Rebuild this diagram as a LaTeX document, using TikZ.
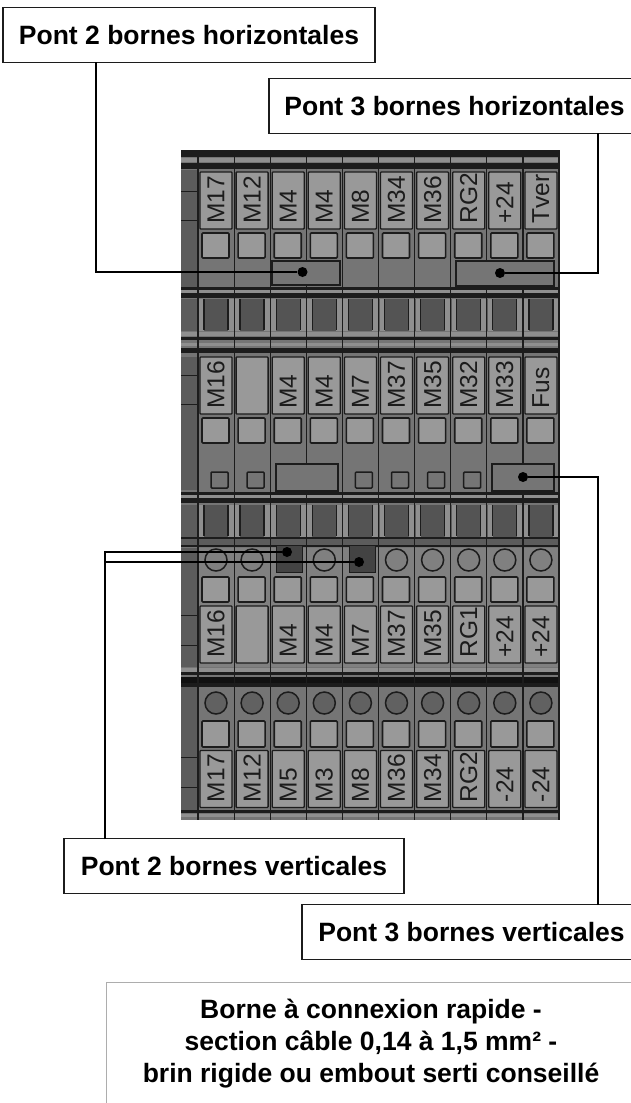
\documentclass[tikz,border=0pt]{standalone}
\usepackage{fontspec}
\setmainfont{Liberation Sans}
\usepackage{tikz}

\definecolor{inkgrey}{gray}{0.11}
\definecolor{casegrey}{gray}{0.46}
\definecolor{upgrey}{gray}{0.50}
\definecolor{taggrey}{gray}{0.60}
\definecolor{cellgrey}{gray}{0.33}
\definecolor{stripgrey}{gray}{0.36}
\definecolor{railgrey}{gray}{0.56}
\definecolor{holegrey}{gray}{0.38}
\definecolor{notegrey}{gray}{0.68}

\tikzset{
    callout/.style={draw=inkgrey, fill=white, line width=1.2pt, font=\bfseries\fontsize{26.5}{32}\selectfont, minimum height=55pt, inner sep=0pt},
    notebox/.style={draw=notegrey, fill=white, line width=1pt, font=\bfseries\fontsize{26.5}{32}\selectfont, align=center, minimum width=530pt, minimum height=126pt, inner sep=0pt},
    tag/.style={draw=inkgrey, fill=taggrey, line width=1.3pt, rounded corners=0.8pt, rotate=90, minimum width=57pt, minimum height=32pt, text width=46pt, inner xsep=5.5pt, inner ysep=0pt, align=flush left, text=inkgrey, font=\fontsize{24.5}{24.5}\selectfont},
    plug/.style={draw=inkgrey, fill=taggrey, line width=1.6pt, rounded corners=1pt},
    hole/.style={draw=inkgrey, line width=1.5pt},
    lid/.style={draw=inkgrey, fill=casegrey, line width=1.6pt},
    dark/.style={draw=inkgrey, fill=cellgrey!80!black, line width=1pt},
    dot/.style={circle, fill=black, minimum size=10pt, inner sep=0pt},
    wire/.style={black, line width=2pt}
}

\begin{document}
\begin{tikzpicture}[x=1pt, y=-1pt]
    \useasboundingbox (0, 0) rectangle (630, 1103);
    % case
    \fill[casegrey] (181, 150) rectangle (559, 820);
    \fill[upgrey] (198, 548) rectangle (559, 667);
    \fill[stripgrey] (181, 170) rectangle (198, 287);
    \fill[stripgrey] (181, 357) rectangle (198, 490);
    \fill[stripgrey] (181, 548) rectangle (198, 667);
    \fill[stripgrey] (181, 687) rectangle (198, 810);
    \foreach \y in {191, 220, 375, 404, 615, 645, 757, 787}
        \draw[inkgrey, line width=0.9pt] (181, \y) -- (198, \y);

    % bands across the case
    \fill[inkgrey] (181, 150) rectangle (559, 157);
    \fill[railgrey] (181, 158) rectangle (559, 162);
    \fill[inkgrey] (181, 163) rectangle (559, 169);
    \fill[inkgrey] (181, 287) rectangle (559, 290);
    \fill[railgrey] (181, 290) rectangle (559, 293);
    \fill[inkgrey] (181, 293) rectangle (559, 298);
    \fill[railgrey] (181, 332) rectangle (559, 336);
    \fill[inkgrey] (181, 337) rectangle (559, 340);
    \fill[railgrey] (181, 343) rectangle (559, 346);
    \fill[inkgrey] (181, 348) rectangle (559, 353);
    \fill[inkgrey] (181, 492) rectangle (559, 495);
    \fill[railgrey] (181, 495) rectangle (559, 498);
    \fill[inkgrey] (181, 498) rectangle (559, 503);
    \fill[stripgrey] (181, 537) rectangle (559, 547);
    \fill[inkgrey] (181, 537) rectangle (559, 539);
    \fill[inkgrey] (181, 545) rectangle (559, 547);
    \fill[railgrey] (181, 668) rectangle (559, 672);
    \fill[inkgrey] (181, 672) rectangle (559, 675);
    \fill[inkgrey!60!black] (181, 677) rectangle (559, 683);
    \fill[inkgrey] (181, 683) rectangle (559, 687);
    \fill[inkgrey] (181, 810) rectangle (559, 813);
    \fill[railgrey] (181, 814) rectangle (559, 817);
    \foreach \y in {299, 505} {
        \fill[stripgrey] (181, \y) rectangle (559, \y + 32);
        \foreach \i in {0, ..., 9} {
            \fill[railgrey] (199 + 36.1*\i, \y) rectangle (233.5 + 36.1*\i, \y + 32);
            \fill[cellgrey] (204 + 36.1*\i, \y) rectangle (228 + 36.1*\i, \y + 32);
            \draw[inkgrey, line width=1.3pt] (204 + 36.1*\i, \y) -- (204 + 36.1*\i, \y + 31);
            \draw[inkgrey, line width=1.3pt] (228 + 36.1*\i, \y) -- (228 + 36.1*\i, \y + 31);
        }
    }

    % walls between the terminals
    \foreach \i in {0, ..., 10}
        \draw[inkgrey, line width=1.2pt] (198 + 36.1*\i, 150) -- (198 + 36.1*\i, 820);

    % the four rows
    \foreach \t [count=\i from 0, evaluate=\i as \x using 216+36.1*\i] in {M17, M12, M4, M4, M8, M34, M36, RG2, +24, Tver} {
        \draw (\x, 200.5) node[tag](a\i){\t};
        \draw[plug] (\x - 14, 233) rectangle (\x + 13, 258);
    }
    \foreach \t [count=\i from 0, evaluate=\i as \x using 216+36.1*\i] in {M16, , M4, M4, M7, M37, M35, M32, M33, Fus} {
        \draw (\x, 385.5) node[tag](b\i){\t};
        \draw[plug] (\x - 14, 418) rectangle (\x + 13, 443);
    }
    \foreach \t [count=\i from 0, evaluate=\i as \x using 216+36.1*\i] in {M16, , M4, M4, M7, M37, M35, RG1, +24, +24} {
        \draw (\x, 634.5) node[tag](c\i){\t};
        \draw[plug] (\x - 14, 577) rectangle (\x + 13, 602);
    }
    \foreach \t [count=\i from 0, evaluate=\i as \x using 216+36.1*\i] in {M17, M12, M5, M3, M8, M36, M34, RG2, -24, -24} {
        \draw (\x, 779) node[tag](e\i){\t};
        \draw[plug] (\x - 14, 721) rectangle (\x + 13, 747);
        \draw[hole, fill=holegrey] (\x, 703) circle (11);
    }
    \foreach \i in {0, 1, 3, 5, 6, 7, 8, 9}
        \draw[hole] (216 + 36.1*\i, 560) circle (11);
    \foreach \i in {0, 1, 4, 5, 6, 7}
        \draw[hole, rounded corners=1pt] (216 + 36.1*\i - 5, 472) rectangle ++(17, 16);

    % bridges
    \draw[lid] (272, 261) rectangle (340, 285);
    \draw[lid] (456, 261) rectangle (554, 286);
    \draw[lid] (276, 464) rectangle (338, 491);
    \draw[lid] (492, 464) rectangle (554, 491);
    \draw[dark] (276, 545) rectangle (302, 572);
    \draw[dark] (349, 545) rectangle (375, 572);

    % callouts
    \draw (189, 35) node[callout, minimum width=372pt](p2h){Pont 2 bornes horizontales};
    \draw (454.5, 106) node[callout, minimum width=371pt](p3h){Pont 3 bornes horizontales};
    \draw (234, 866) node[callout, minimum width=340pt](p2v){Pont 2 bornes verticales};
    \draw (471.5, 932) node[callout, minimum width=339pt](p3v){Pont 3 bornes verticales};
    \draw (371, 1045) node[notebox](note){Borne à connexion rapide -\\section câble 0,14 à 1,5 mm² -\\brin rigide ou embout serti conseillé\\[-24pt]};

    \draw (302.5, 272) node[dot](d2h){};
    \draw (500, 273) node[dot](d3h){};
    \draw (287, 552) node[dot](d2va){};
    \draw (359, 562) node[dot](d2vb){};
    \draw (523, 477) node[dot](d3v){};

    \coordinate (w2h) at (96, 62);
    \coordinate (w3h) at (597.5, 133);
    \coordinate (w2v) at (105, 839);
    \coordinate (w3v) at (597.5, 905);
    \draw[wire] (w2h) |- (d2h);
    \draw[wire] (w3h) |- (d3h);
    \draw[wire] (w2v) |- (d2va);
    \draw[wire] (w2v) |- (d2vb);
    \draw[wire] (w3v) |- (d3v);
\end{tikzpicture}
\end{document}
